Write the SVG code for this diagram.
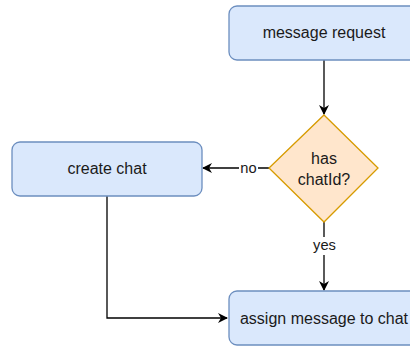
<svg xmlns="http://www.w3.org/2000/svg" width="410" height="347" viewBox="0 0 410 347">
<style>
.box{fill:#dae8fc;stroke:#6c8ebf;stroke-width:1.3}
.dia{fill:#ffe6cc;stroke:#d79b00;stroke-width:1.3}
.t{font-family:"Liberation Sans",Arial,sans-serif;font-size:16px;fill:#1a1a1a;text-anchor:middle;dominant-baseline:central}
.lbl{font-family:"Liberation Sans",Arial,sans-serif;font-size:14.7px;fill:#1a1a1a;text-anchor:middle;dominant-baseline:central}
.edge{fill:none;stroke:#000;stroke-width:1.3}
</style>
<defs>
<marker id="arr" viewBox="0 0 10 10" refX="9" refY="5" markerWidth="10" markerHeight="10" markerUnits="userSpaceOnUse" orient="auto">
<path d="M0,0 L10,5 L0,10 L3,5 Z" fill="#000"/>
</marker>
</defs>
<rect width="410" height="347" fill="#fff"/>
<g id="edges">
<path class="edge" d="M324,60 V114" marker-end="url(#arr)"/>
<path class="edge" d="M269,168 H203" marker-end="url(#arr)"/>
<path class="edge" d="M324,222 V290" marker-end="url(#arr)"/>
<path class="edge" d="M107,196 V318 H227" marker-end="url(#arr)"/>
<rect x="239" y="159" width="19" height="18" fill="#fff"/>
<text class="lbl" x="248.5" y="168">no</text>
<rect x="312" y="237" width="25" height="18" fill="#fff"/>
<text class="lbl" x="324.5" y="245">yes</text>
</g>
<g id="message-request">
<rect class="box" x="229" y="6" width="190" height="54" rx="8"/>
<text class="t" x="324" y="32">message request</text>
</g>
<g id="has-chatid">
<path class="dia" d="M324,115 L378,168 L324,222 L269,168 Z"/>
<text class="t" x="324" y="158">has</text>
<text class="t" x="324" y="179">chatId?</text>
</g>
<g id="create-chat">
<rect class="box" x="12" y="142" width="190" height="54" rx="8"/>
<text class="t" x="107" y="168">create chat</text>
</g>
<g id="assign-message">
<rect class="box" x="229" y="291" width="190" height="54" rx="8"/>
<text class="t" x="324" y="318">assign message to chat</text>
</g>
</svg>
